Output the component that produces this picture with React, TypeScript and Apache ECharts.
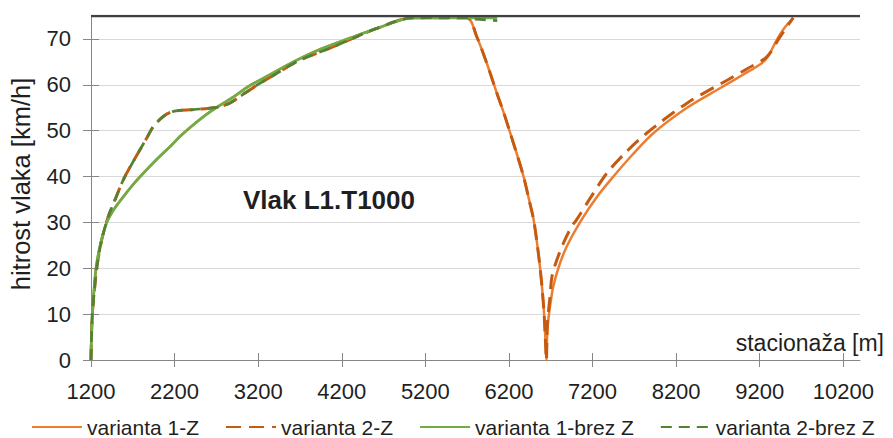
import React, { useEffect, useRef } from "react";
import * as echarts from "echarts";

// ---- data ----
const xTickValues = [1200, 2200, 3200, 4200, 5200, 6200, 7200, 8200, 9200, 10200];
const yTickValues = [0, 10, 20, 30, 40, 50, 60, 70];
const seriesNames = ["varianta 1-Z", "varianta 2-Z", "varianta 1-brez Z", "varianta 2-brez Z"];

// acceleration from start, variant 1 (solid)
const accelVar1: number[][] = [
  [1200, 0], [1204, 4], [1216, 10], [1235, 15], [1260, 20], [1310, 25], [1388, 30],
  [1480, 33], [1587, 35.6], [1720, 38.6], [1867, 41.5], [2000, 44], [2145, 46.5],
  [2280, 49], [2425, 51.3], [2570, 53.4], [2723, 55.3], [2900, 57.3], [3080, 59.6],
  [3300, 61.8], [3620, 65], [3950, 67.8], [4300, 70.2], [4650, 72.5], [5050, 74.6],
];
// acceleration from start, variant 2 (dashed)
const accelVar2: number[][] = [
  [1200, 0], [1204, 4], [1216, 10], [1240, 15], [1268, 20], [1328, 26.2], [1407, 31.3],
  [1500, 35.5], [1587, 39.3], [1706, 43.3], [1867, 48.4], [1946, 50.9], [2065, 53.1],
  [2185, 54.2], [2425, 54.6], [2705, 55.1], [2860, 56], [3050, 58.3], [3220, 60.3],
  [3450, 62.8], [3700, 65.4], [4100, 68.3], [4620, 72.3], [5050, 74.6],
];
// cruising then braking to the stop (both Z variants)
const brakingZ: number[][] = [
  [5695, 74.6], [5815, 70.5], [5935, 64.7], [6055, 58.2], [6140, 53.8], [6215, 49.5],
  [6300, 44.6], [6375, 40], [6440, 35], [6495, 30.6], [6540, 25], [6575, 19.7],
  [6600, 15], [6620, 10.2], [6635, 5], [6648, 0],
];
// restart after the stop
const restartVar1: number[][] = [
  [6660, 6.6], [6690, 11.5], [6730, 16], [6800, 20.5], [6890, 24.7], [7070, 30.6],
  [7250, 35.5], [7450, 40], [7680, 44.8], [7930, 49.5], [8330, 55], [8730, 59.3],
  [9000, 62.2], [9225, 64.7], [9300, 66.2], [9405, 69.8], [9500, 72.5], [9605, 74.6],
];
const restartVar2: number[][] = [
  [6660, 8], [6690, 13.5], [6715, 18.2], [6775, 21.9], [6860, 25.8], [6950, 29.1],
  [7010, 30.6], [7180, 35.5], [7370, 40.7], [7600, 45.3], [7850, 49.5], [8330, 56],
  [8810, 61], [9050, 63.5], [9285, 66.1], [9445, 70.5], [9600, 74.6],
];
// without stop: cruising to the end
const cruiseVar1: number[][] = [[5695, 74.6], [6060, 74.6]];
const cruiseVar2: number[][] = [[5695, 74.6], [5800, 74.3], [6060, 74.0]];
const speedLimit: number[][] = [[1200, 75], [10400, 75]];

const FONT = "'Liberation Sans', Arial, sans-serif";
const TEXT = "#1f1f1f";
const AXIS = "#868686";

export default function App() {
  const ref = useRef<HTMLDivElement>(null);
  useEffect(() => {
    if (!ref.current) return;
    const chart = echarts.init(ref.current, null, { renderer: "svg" });
    const lineSeries = (name: string, data: number[][], color: string, width: number, dash: any, z: number) => ({
      name,
      type: "line",
      data,
      symbol: "none",
      smooth: 0.3,
      z,
      lineStyle: { color, width, type: dash, cap: "butt" },
      itemStyle: { color },
    });
    const xBase = {
      type: "value",
      min: 1200,
      max: 10400,
      interval: 1000,
      position: "bottom",
      gridIndex: 0,
    };
    const yBase = {
      type: "value",
      min: 0,
      max: 75,
      interval: 10,
      position: "left",
      gridIndex: 0,
    };
    chart.setOption({
      animation: false,
      textStyle: { fontFamily: FONT },
      grid: { left: 91, right: 33, top: 16, bottom: 78, containLabel: false },
      xAxis: [
        {
          ...xBase,
          axisLine: { show: true, lineStyle: { color: AXIS, width: 1 } },
          axisTick: { show: true, inside: false, length: 7, lineStyle: { color: AXIS }, customValues: xTickValues },
          axisLabel: {
            show: true,
            margin: 20,
            fontSize: 22,
            color: TEXT,
            fontFamily: FONT,
            customValues: xTickValues,
            formatter: (v: number) => (xTickValues.includes(v) ? String(v) : ""),
          },
          splitLine: { show: false },
        },
        {
          ...xBase,
          axisLine: { show: false },
          axisTick: { show: true, inside: true, length: 7, lineStyle: { color: AXIS }, customValues: xTickValues },
          axisLabel: { show: false },
          splitLine: { show: false },
        },
      ],
      yAxis: [
        {
          ...yBase,
          name: "hitrost vlaka [km/h]",
          nameLocation: "middle",
          nameRotate: 90,
          nameGap: 57,
          nameTextStyle: { fontSize: 25.5, color: TEXT, fontFamily: FONT, padding: [0, 0, 0, 8] },
          axisLine: { show: true, lineStyle: { color: AXIS, width: 1 } },
          axisTick: { show: true, inside: false, length: 8, lineStyle: { color: AXIS }, customValues: yTickValues },
          axisLabel: {
            show: true,
            margin: 20,
            fontSize: 22,
            color: TEXT,
            fontFamily: FONT,
            customValues: yTickValues,
            formatter: (v: number) => (yTickValues.includes(v) ? String(v) : ""),
          },
          splitLine: { show: true, lineStyle: { color: "#d9d9d9", width: 1 } },
        },
        {
          ...yBase,
          axisLine: { show: false },
          axisTick: { show: true, inside: true, length: 8, lineStyle: { color: AXIS }, customValues: yTickValues },
          axisLabel: { show: false },
          splitLine: { show: false },
        },
      ],
      legend: {
        data: seriesNames,
        left: 26,
        top: 411,
        padding: 5,
        itemWidth: 50,
        itemHeight: 14,
        itemGap: 26,
        itemStyle: { opacity: 0 },
        textStyle: { fontSize: 21, lineHeight: 22, color: TEXT, fontFamily: FONT },
      },
      graphic: [
        {
          type: "text",
          left: 243,
          top: 187,
          style: { text: "Vlak L1.T1000", font: `bold 26px ${FONT}`, fill: TEXT },
        },
        {
          type: "text",
          right: 9,
          top: 331,
          style: { text: "stacionaža [m]", font: `23px ${FONT}`, fill: TEXT },
        },
      ],
      series: [
        lineSeries(seriesNames[0], [...accelVar1, ...brakingZ, ...restartVar1], "#ED7D31", 2.5, "solid", 2),
        lineSeries(seriesNames[1], [...accelVar2, ...brakingZ, ...restartVar2], "#C55A11", 3, [15, 8], 3),
        lineSeries(seriesNames[2], [...accelVar1, ...cruiseVar1], "#70AD47", 2.75, "solid", 4),
        lineSeries(seriesNames[3], [...accelVar2, ...cruiseVar2], "#548235", 2.75, [11, 7], 5),
        {
          name: "limit",
          type: "line",
          data: speedLimit,
          symbol: "none",
          z: 6,
          lineStyle: { color: "#404040", width: 2.5 },
          itemStyle: { color: "#404040" },
        },
      ],
    });
    return () => chart.dispose();
  }, []);
  return (
    <div
      ref={ref}
      style={{ position: "fixed", left: 0, top: 0, width: 893, height: 438, background: "#fff" }}
    />
  );
}
